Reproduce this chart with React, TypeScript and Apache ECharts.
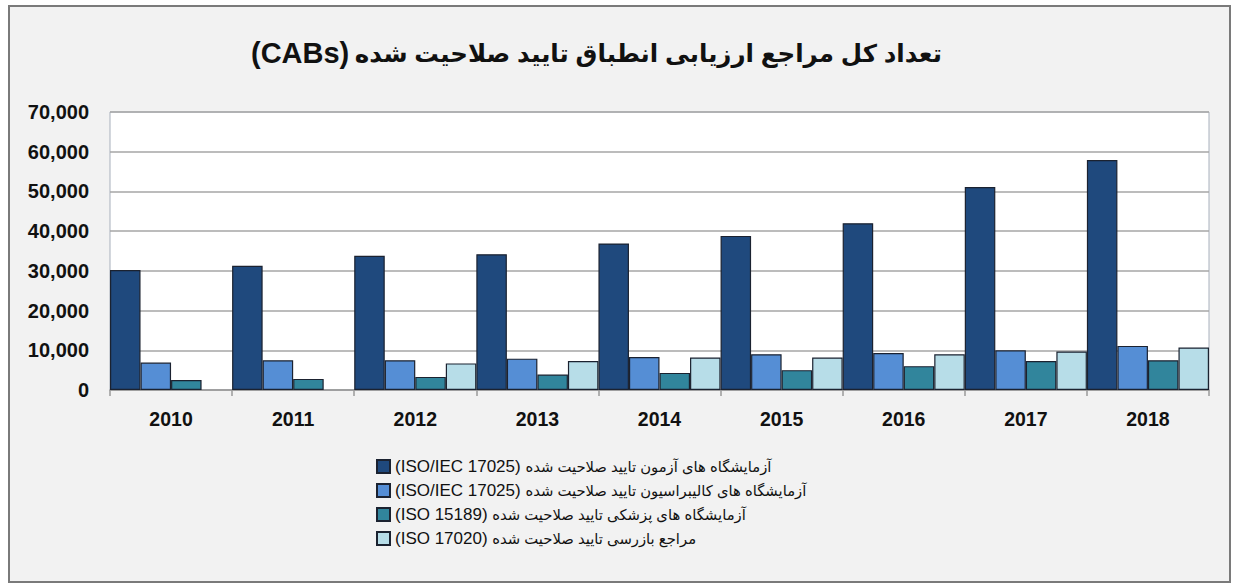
import React, { useEffect, useRef } from "react";
import * as echarts from "echarts";

const years = ["2010", "2011", "2012", "2013", "2014", "2015", "2016", "2017", "2018"];
const testingLabs = [30200, 31300, 33800, 34200, 36900, 38800, 42000, 51100, 57900];
const calibrationLabs = [6900, 7500, 7500, 7900, 8300, 9000, 9300, 10000, 11100];
const medicalLabs = [2500, 2800, 3300, 3900, 4300, 5000, 6000, 7300, 7500];
const inspectionBodies = [null, null, 6700, 7300, 8200, 8200, 9000, 9700, 10700];

const seriesCodes = ["(ISO/IEC 17025)", "(ISO/IEC 17025)", "(ISO 15189)", "(ISO 17020)"];
const seriesTitles = [
  "آزمایشگاه های آزمون تایید صلاحیت شده",
  "آزمایشگاه های کالیبراسیون تایید صلاحیت شده",
  "آزمایشگاه های پزشکی تایید صلاحیت شده",
  "مراجع بازرسی تایید صلاحیت شده",
];
const seriesNames = seriesTitles.map((t, i) => t + " " + seriesCodes[i]);
const seriesColors = ["#1f497d", "#558ed5", "#31859c", "#b7dde8"];
const titleCode = "(CABs)";
const titlePersian = "تعداد کل مراجع ارزیابی انطباق تایید صلاحیت شده";

const FONT = "'Liberation Sans', Arial, 'DejaVu Sans', sans-serif";

export default function App() {
  const ref = useRef<HTMLDivElement>(null);
  useEffect(() => {
    if (!ref.current) return;
    const chart = echarts.init(ref.current, undefined, { renderer: "svg" });
    const dataSets = [testingLabs, calibrationLabs, medicalLabs, inspectionBodies];
    chart.setOption({
      animation: false,
      backgroundColor: "#ffffff",
      graphic: [
        {
          type: "rect",
          z: -10,
          silent: true,
          shape: { x: 9, y: 6, width: 1221, height: 576 },
          style: { fill: "#f2f2f2", stroke: "#7a7a7a", lineWidth: 2 },
        },
      ],
      title: {
        text: "{a|" + titleCode + "}{sp| }{b|" + titlePersian + "}",
        left: 246,
        top: 32,
        textStyle: {
          rich: {
            a: { fontFamily: FONT, fontSize: 29, fontWeight: "bold", color: "#111", lineHeight: 32 },
            sp: { fontFamily: FONT, fontSize: 20, lineHeight: 32 },
            b: { fontFamily: FONT, fontSize: 24.5, fontWeight: "bold", color: "#111", lineHeight: 32 },
          },
        },
      },
      legend: {
        orient: "vertical",
        left: 371,
        top: 453,
        itemWidth: 13,
        itemHeight: 13,
        itemGap: 7,
        itemTextGap: 8,
        icon: "rect",
        formatter: (name: string) => {
          const i = seriesNames.indexOf(name);
          return "{a|" + seriesCodes[i] + " }{b|" + seriesTitles[i] + "}";
        },
        textStyle: {
          color: "#111",
          rich: {
            a: { fontFamily: FONT, fontSize: 17, color: "#111", lineHeight: 17 },
            b: { fontFamily: FONT, fontSize: 14.8, color: "#111", lineHeight: 17 },
          },
        },
        data: seriesNames,
      },
      grid: {
        left: 110,
        right: 25,
        top: 112,
        bottom: 194,
        show: true,
        backgroundColor: "#ffffff",
        borderColor: "#a8b0bc",
        borderWidth: 1,
      },
      xAxis: {
        type: "category",
        data: years,
        axisLine: { lineStyle: { color: "#9a9a9a", width: 1.5 } },
        axisTick: { show: true, length: 6, lineStyle: { color: "#9a9a9a", width: 1.5 } },
        axisLabel: { fontFamily: FONT, fontSize: 19.5, fontWeight: "bold", color: "#111", margin: 19 },
      },
      yAxis: {
        type: "value",
        min: 0,
        max: 70000,
        interval: 10000,
        axisLine: { show: false },
        axisTick: { show: false },
        splitLine: { lineStyle: { color: "#a6a6a6", width: 1.5 } },
        axisLabel: {
          fontFamily: FONT,
          fontSize: 20,
          fontWeight: "bold",
          color: "#111",
          margin: 21,
          formatter: (v: number) => v.toLocaleString("en-US"),
        },
      },
      series: seriesNames.map((name, i) => ({
        name,
        type: "bar",
        data: dataSets[i],
        barGap: "0%",
        barCategoryGap: "0%",
        itemStyle: { color: seriesColors[i], borderColor: "#1b2230", borderWidth: 1.2 },
      })),
    });
    return () => chart.dispose();
  }, []);
  return (
    <div
      ref={ref}
      style={{ position: "fixed", left: 0, top: 0, width: 1234, height: 584 }}
    />
  );
}
